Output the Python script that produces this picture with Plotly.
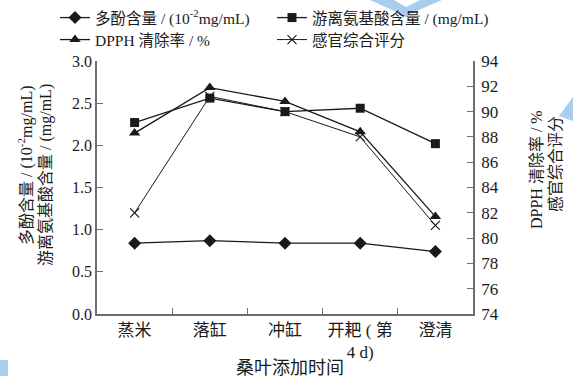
import plotly.graph_objects as go

# Stages at which mulberry leaves are added
stages = ["蒸米", "落缸", "冲缸", "开耙 ( 第<br>4 d)", "澄清"]

# Series values
polyphenol = [0.84, 0.87, 0.84, 0.84, 0.74]      # 10^-2 mg/mL, left axis
amino_acid = [2.27, 2.56, 2.40, 2.44, 2.02]      # mg/mL, left axis
dpph = [88.3, 91.9, 90.8, 88.4, 81.7]            # %, right axis
sensory = [82.0, 91.2, 90.0, 88.0, 81.0]         # score, right axis

left_ticks = [0.0, 0.5, 1.0, 1.5, 2.0, 2.5, 3.0]
right_ticks = list(range(74, 95, 2))

FONT = "Liberation Serif, Noto Sans CJK SC, serif"
INK = "#1a1a1a"
AXIS = "#6e6e6e"
DECOR = "#aacdee"

W, H = 573, 376
ML, MR, MT, MB = 97, 100, 61, 62
PW, PH = W - ML - MR, H - MT - MB


def px(xp):
    """Page x pixel -> paper coordinate."""
    return (xp - ML) / PW


def py(yp):
    """Page y pixel (from top) -> paper coordinate."""
    return (H - MB - yp) / PH


x = list(range(len(stages)))

fig = go.Figure()
fig.add_trace(go.Scatter(
    x=x, y=polyphenol, name="多酚含量 / (10<sup>-2</sup>mg/mL)", legend="legend",
    mode="lines+markers", line=dict(color=INK, width=1.3),
    marker=dict(symbol="diamond", size=10, color=INK)))
fig.add_trace(go.Scatter(
    x=x, y=amino_acid, name="游离氨基酸含量 / (mg/mL)", legend="legend",
    mode="lines+markers", line=dict(color=INK, width=1.3),
    marker=dict(symbol="square", size=9, color=INK)))
fig.add_trace(go.Scatter(
    x=x, y=dpph, name="DPPH 清除率 / %", yaxis="y2", legend="legend2",
    mode="lines+markers", line=dict(color=INK, width=1.3),
    marker=dict(symbol="triangle-up", size=10, color=INK)))
fig.add_trace(go.Scatter(
    x=x, y=sensory, name="感官综合评分", yaxis="y2", legend="legend2",
    mode="lines+markers", line=dict(color=INK, width=1.0),
    marker=dict(symbol="x-thin", size=9, color=INK,
                line=dict(color=INK, width=1.2))))

legend_common = dict(
    orientation="h", xanchor="left", yanchor="middle",
    entrywidth=172, entrywidthmode="pixels",
    font=dict(family=FONT, size=15.5, color=INK),
    bgcolor="rgba(0,0,0,0)", tracegroupgap=0,
)

fig.update_layout(
    width=W, height=H,
    margin=dict(l=ML, r=MR, t=MT, b=MB, autoexpand=False),
    paper_bgcolor="white", plot_bgcolor="white",
    font=dict(family=FONT, size=14, color=INK),
    showlegend=True,
    legend=dict(x=px(55), y=py(18), **legend_common),
    legend2=dict(x=px(55), y=py(40), **legend_common),
    xaxis=dict(
        range=[-0.5, 4.5], tickmode="array", tickvals=x, ticktext=stages,
        ticks="", showline=True, linecolor=AXIS, linewidth=1.5,
        showgrid=False, zeroline=False,
        tickfont=dict(family=FONT, size=17, color=INK),
        minor=dict(tickvals=[0.5, 1.5, 2.5, 3.5], ticks="inside",
                   ticklen=6, tickcolor=AXIS, tickwidth=1.2),
    ),
    yaxis=dict(
        range=[0, 3.0], tickmode="array", tickvals=left_ticks,
        ticktext=[f"{v:.1f}" for v in left_ticks],
        ticks="inside", ticklen=6, tickcolor=AXIS, tickwidth=1.2,
        showline=True, linecolor=AXIS, linewidth=1.5,
        showgrid=False, zeroline=False,
        tickfont=dict(family=FONT, size=16, color=INK),
    ),
    yaxis2=dict(
        range=[74, 94], overlaying="y", side="right",
        tickmode="array", tickvals=right_ticks,
        ticks="inside", ticklen=6, tickcolor=AXIS, tickwidth=1.2,
        ticklabelstandoff=3,
        showline=True, linecolor=AXIS, linewidth=1.5,
        showgrid=False, zeroline=False,
        tickfont=dict(family=FONT, size=17, color=INK),
    ),
)

# Axis titles, one annotation per line
title_font = dict(family=FONT, size=16, color=INK)
for text, xp, yp in [
    ("多酚含量 / (10<sup>-2</sup>mg/mL)", 25, 165),
    ("游离氨基酸含量 / (mg/mL)", 46, 175),
    ("DPPH 清除率 / %", 536, 170),
    ("感官综合评分", 555, 164),
]:
    fig.add_annotation(text=text, xref="paper", yref="paper", x=px(xp), y=py(yp),
                       xanchor="center", yanchor="middle", textangle=-90,
                       showarrow=False, font=title_font)

fig.add_annotation(text="桑叶添加时间", xref="paper", yref="paper",
                   x=px(290), y=py(368), xanchor="center", yanchor="middle",
                   showarrow=False, font=dict(family=FONT, size=18, color=INK))

# Light-blue page decorations around the figure
def path(points):
    return "M " + " L ".join(f"{px(a)},{py(b)}" for a, b in points) + " Z"


for pts in [
    [(370, 0), (405, 16), (442, 0), (420, 0), (406, 7), (394, 0)],
    [(559, 116), (573, 97), (573, 121)],
    [(0, 360), (8, 360), (8, 376), (0, 376)],
]:
    fig.add_shape(type="path", path=path(pts), xref="paper", yref="paper",
                  fillcolor=DECOR, line=dict(width=0), layer="below")

fig.write_html("out.html")
